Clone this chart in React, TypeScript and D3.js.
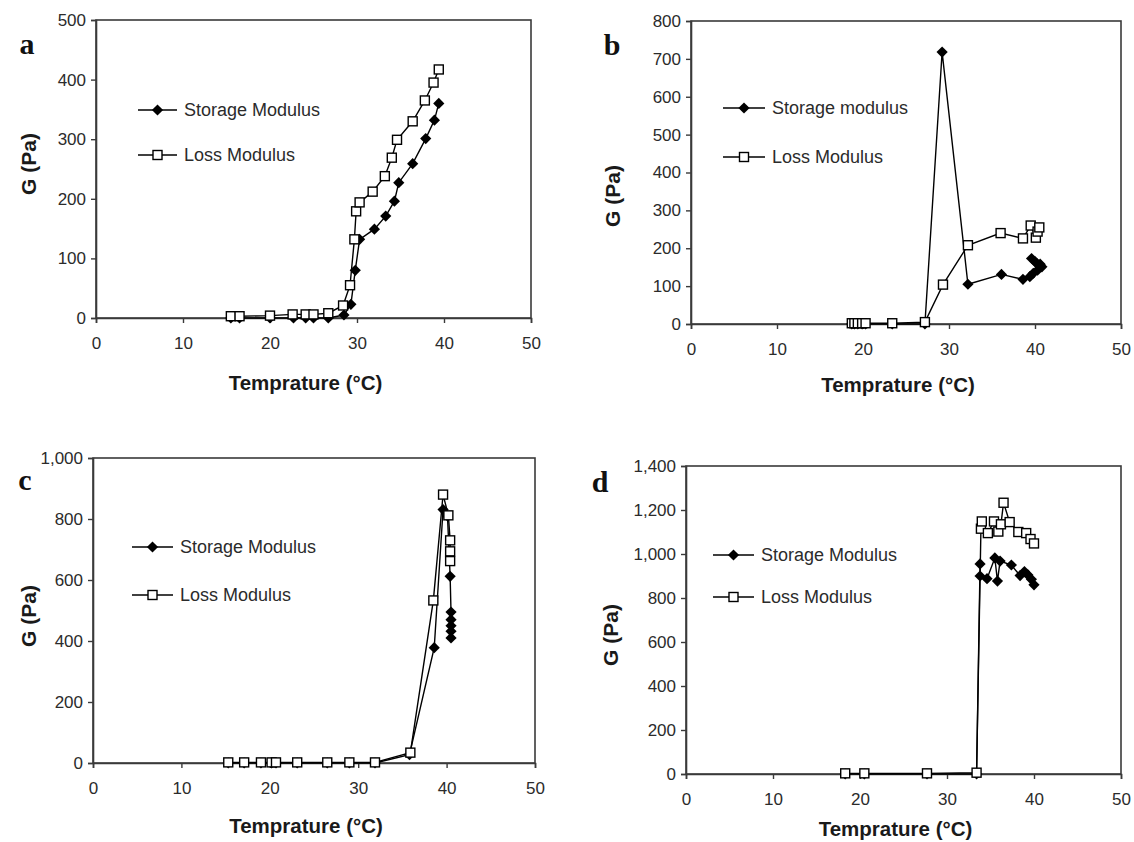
import React, { useEffect, useRef } from "react";
import * as d3 from "d3";

// ---------- data ----------
// Panel a
const aStorageT = [15.5, 16.5, 20.0, 22.7, 24.1, 25.0, 26.7, 28.5, 29.3, 29.8, 30.3, 32.0, 33.3, 34.3, 34.8, 36.4, 37.9, 38.9, 39.4];
const aStorageG = [0, 0, 0, 0, 0, 0, 0, 5, 23, 80, 132, 149, 171, 196, 227, 259, 301, 332, 360];
const aLossT = [15.5, 16.5, 20.0, 22.6, 24.1, 25.0, 26.7, 28.4, 29.2, 29.7, 29.9, 30.3, 31.8, 33.2, 34.0, 34.6, 36.4, 37.8, 38.8, 39.4];
const aLossG = [3, 3, 4, 6, 6, 6, 8, 21, 55, 132, 179, 194, 212, 238, 269, 299, 330, 365, 395, 417];

// Panel b
const bStorageT = [18.7, 19.0, 19.4, 19.9, 20.3, 23.4, 27.2, 29.2, 32.2, 36.1, 38.6, 39.4, 39.8, 40.3, 40.8, 40.2, 39.6, 40.0, 40.6];
const bStorageG = [0, 0, 0, 0, 0, 0, 0, 718, 105, 131, 118, 125, 134, 142, 151, 160, 173, 165, 158];
const bLossT = [18.7, 19.0, 19.4, 19.9, 20.3, 23.4, 27.2, 29.3, 32.2, 36.0, 38.6, 39.5, 40.1, 40.3, 40.5];
const bLossG = [2, 2, 2, 2, 2, 2, 5, 104, 208, 240, 226, 260, 228, 244, 255];

// Panel c
const cStorageT = [15.3, 17.1, 19.0, 20.2, 20.7, 23.1, 26.5, 29.0, 31.9, 35.8, 38.6, 39.6, 40.1, 40.4, 40.5, 40.5, 40.5, 40.5, 40.5];
const cStorageG = [0, 0, 0, 0, 0, 0, 0, 0, 0, 27, 378, 831, 810, 612, 495, 470, 450, 432, 410];
const cLossT = [15.3, 17.1, 19.0, 20.2, 20.7, 23.1, 26.5, 29.0, 31.9, 35.9, 38.5, 39.6, 40.2, 40.4, 40.4, 40.4];
const cLossG = [2, 2, 2, 2, 2, 2, 2, 2, 2, 34, 533, 880, 812, 730, 694, 662];

// Panel d
const dStorageT = [18.3, 20.5, 27.7, 33.4, 33.8, 33.8, 34.6, 35.5, 35.8, 36.1, 37.4, 38.4, 38.9, 39.3, 39.7, 40.0];
const dStorageG = [0, 0, 0, 0, 955, 900, 888, 982, 877, 968, 950, 902, 920, 905, 885, 860];
const dLossT = [18.3, 20.5, 27.7, 33.4, 33.9, 34.0, 34.7, 35.4, 35.9, 36.2, 36.5, 37.2, 38.2, 39.1, 39.6, 40.0];
const dLossG = [3, 3, 3, 6, 1115, 1148, 1095, 1148, 1102, 1135, 1233, 1145, 1100, 1095, 1068, 1048];

// ticks / labels
const xTicks = [0, 10, 20, 30, 40, 50];
const aYTicks = [0, 100, 200, 300, 400, 500];
const bYTicks = [0, 100, 200, 300, 400, 500, 600, 700, 800];
const cYTicks = [0, 200, 400, 600, 800, 1000];
const dYTicks = [0, 200, 400, 600, 800, 1000, 1200, 1400];
const panelLetters = ["a", "b", "c", "d"];
const storageNames = ["Storage Modulus", "Storage modulus", "Storage Modulus", "Storage Modulus"];
const lossName = "Loss Modulus";
const xTitle = "Temprature (°C)";
const yTitle = "G (Pa)";

// ---------- layout ----------
const layouts = [
  { x0: 96, x1: 531, yTop: 20, yBot: 318, letter: [27, 54], yt: [36, 164], xt: 390, leg: [138, 177, 110, 155] },
  { x0: 691, x1: 1121, yTop: 21, yBot: 324, letter: [612, 55], yt: [620, 196], xt: 392, leg: [723, 765, 108, 157] },
  { x0: 93, x1: 535, yTop: 458, yBot: 763, letter: [25, 490], yt: [36, 616], xt: 833, leg: [132, 173, 547, 595] },
  { x0: 686, x1: 1121, yTop: 466, yBot: 774, letter: [600, 492], yt: [618, 635], xt: 836, leg: [713, 754, 555, 597] },
];

const panels = [
  { yMax: 500, yTicks: aYTicks, sT: aStorageT, sG: aStorageG, lT: aLossT, lG: aLossG },
  { yMax: 800, yTicks: bYTicks, sT: bStorageT, sG: bStorageG, lT: bLossT, lG: bLossG },
  { yMax: 1000, yTicks: cYTicks, sT: cStorageT, sG: cStorageG, lT: cLossT, lG: cLossG },
  { yMax: 1400, yTicks: dYTicks, sT: dStorageT, sG: dStorageG, lT: dLossT, lG: dLossG },
];

const FONT = "'Liberation Sans', Arial, sans-serif";

export default function App() {
  const ref = useRef<SVGSVGElement | null>(null);

  useEffect(() => {
    const svg = d3.select(ref.current);
    svg.selectAll("*").remove();
    svg.append("rect").attr("width", 1134).attr("height", 842).attr("fill", "#fff");

    panels.forEach((p, i) => {
      const L = layouts[i];
      const x = d3.scaleLinear().domain([0, 50]).range([L.x0, L.x1]);
      const y = d3.scaleLinear().domain([0, p.yMax]).range([L.yBot, L.yTop]);
      const g = svg.append("g");

      // frame
      g.append("rect")
        .attr("x", L.x0).attr("y", L.yTop)
        .attr("width", L.x1 - L.x0).attr("height", L.yBot - L.yTop)
        .attr("fill", "none").attr("stroke", "#3a3a3a").attr("stroke-width", 1.6);

      // axes
      const xa = g.append("g").attr("transform", `translate(0,${L.yBot})`)
        .call(d3.axisBottom(x).tickValues(xTicks).tickSize(5).tickPadding(14).tickFormat(d3.format("d")));
      const ya = g.append("g").attr("transform", `translate(${L.x0},0)`)
        .call(d3.axisLeft(y).tickValues(p.yTicks).tickSize(5).tickPadding(5).tickFormat(d3.format(",")));
      [xa, ya].forEach((a) => {
        a.select(".domain").attr("stroke", "#3a3a3a").attr("stroke-width", 1.6);
        a.selectAll(".tick line").attr("stroke", "#3a3a3a").attr("stroke-width", 1.4);
        a.selectAll(".tick text").attr("font-family", FONT).attr("font-size", 17).attr("fill", "#2b2b2b");
      });

      // titles
      g.append("text").attr("x", (L.x0 + L.x1) / 2 - 8).attr("y", L.xt)
        .attr("text-anchor", "middle").attr("font-family", FONT).attr("font-weight", "bold")
        .attr("font-size", 20.5).attr("fill", "#1a1a1a").text(xTitle);
      g.append("text").attr("transform", `translate(${L.yt[0]},${L.yt[1]}) rotate(-90)`)
        .attr("text-anchor", "middle").attr("font-family", FONT).attr("font-weight", "bold")
        .attr("font-size", 21).attr("fill", "#1a1a1a").text(yTitle);
      g.append("text").attr("x", L.letter[0]).attr("y", L.letter[1])
        .attr("text-anchor", "middle").attr("font-family", "'Liberation Serif', 'Times New Roman', serif")
        .attr("font-weight", "bold").attr("font-size", 30).attr("fill", "#111").text(panelLetters[i]);

      const line = d3.line<[number, number]>().x((d) => x(d[0])).y((d) => y(d[1]));
      const sData: [number, number][] = p.sT.map((t, k) => [t, p.sG[k]]);
      const lData: [number, number][] = p.lT.map((t, k) => [t, p.lG[k]]);

      const diamond = d3.symbol().type(d3.symbolDiamond2).size(80);

      // storage series
      g.append("path").attr("d", line(sData)!).attr("fill", "none").attr("stroke", "#000").attr("stroke-width", 1.4);
      // loss series
      g.append("path").attr("d", line(lData)!).attr("fill", "none").attr("stroke", "#000").attr("stroke-width", 1.4);

      g.selectAll(".dm").data(sData).enter().append("path")
        .attr("transform", (d) => `translate(${x(d[0])},${y(d[1])})`)
        .attr("d", diamond()!).attr("fill", "#000");
      g.selectAll(".sq").data(lData).enter().append("rect")
        .attr("x", (d) => x(d[0]) - 4.5).attr("y", (d) => y(d[1]) - 4.5)
        .attr("width", 9).attr("height", 9)
        .attr("fill", "#fff").attr("stroke", "#000").attr("stroke-width", 1.4);

      // legend
      const [lx0, lx1, ly1, ly2] = L.leg;
      const mx = (lx0 + lx1) / 2;
      g.append("line").attr("x1", lx0).attr("x2", lx1).attr("y1", ly1).attr("y2", ly1).attr("stroke", "#000").attr("stroke-width", 1.4);
      g.append("path").attr("transform", `translate(${mx},${ly1})`).attr("d", diamond()!).attr("fill", "#000");
      g.append("text").attr("x", lx1 + 7).attr("y", ly1 + 6).attr("font-family", FONT)
        .attr("font-size", 18).attr("fill", "#2b2b2b").text(storageNames[i]);
      g.append("line").attr("x1", lx0).attr("x2", lx1).attr("y1", ly2).attr("y2", ly2).attr("stroke", "#000").attr("stroke-width", 1.4);
      g.append("rect").attr("x", mx - 4.5).attr("y", ly2 - 4.5).attr("width", 9).attr("height", 9)
        .attr("fill", "#fff").attr("stroke", "#000").attr("stroke-width", 1.4);
      g.append("text").attr("x", lx1 + 7).attr("y", ly2 + 6).attr("font-family", FONT)
        .attr("font-size", 18).attr("fill", "#2b2b2b").text(lossName);
    });
  }, []);

  return (
    <svg
      ref={ref}
      width={1134}
      height={842}
      style={{ position: "absolute", left: 0, top: 0, display: "block" }}
    />
  );
}
